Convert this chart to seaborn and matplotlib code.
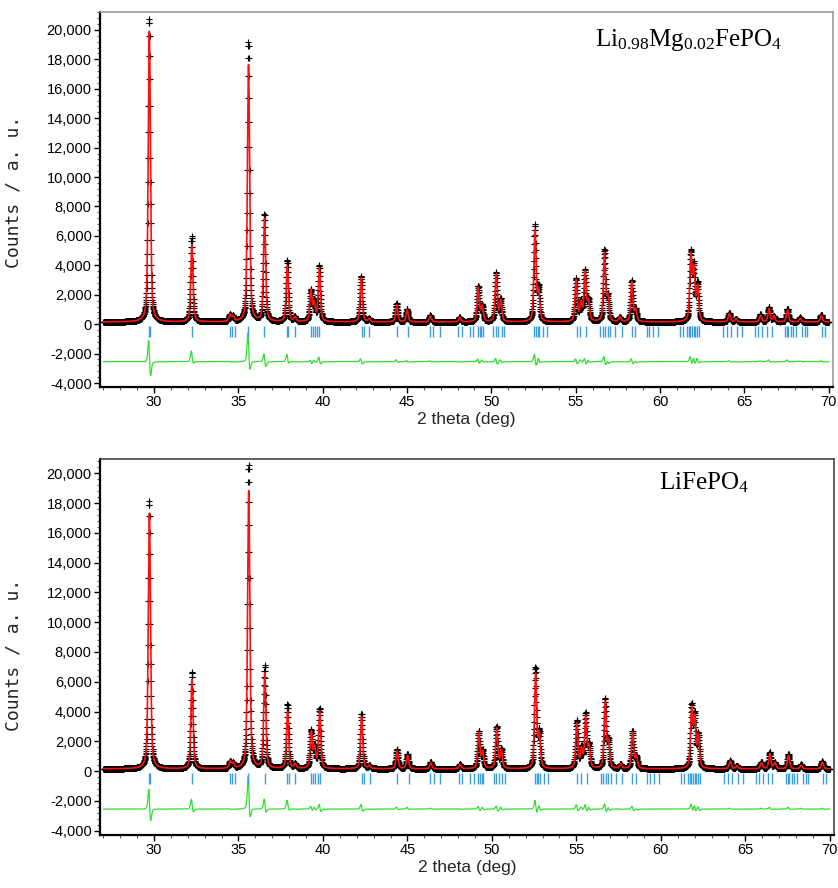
import numpy as np
import pandas as pd
import matplotlib
matplotlib.use("Agg")
import matplotlib.pyplot as plt
from matplotlib.ticker import MultipleLocator, FuncFormatter
import seaborn as sns

# ---------------- data ----------------
# 2-theta scan range and step of the measurement
scan_start, scan_stop, scan_step = 27.0, 70.0, 0.01
background = 150            # flat background level (counts)
diff_offset = -2550         # level at which obs-calc difference is drawn
peak_fwhm = 0.15            # observed peak width (deg)
calc_fwhm = 0.155           # calculated peak width (deg)
calc_shift = 0.006          # small misfit of calculated positions (deg)

# reflection positions (deg 2theta)
peak_pos = [29.72, 32.24, 34.50, 34.68, 35.60, 36.55, 37.90, 38.35, 39.30, 39.50,
            39.80, 42.28, 42.75, 44.38, 45.00, 46.38, 48.12, 49.22, 49.45, 50.28,
            50.55, 52.58, 52.80, 55.02, 55.30, 55.55, 55.75, 56.70, 56.90, 57.62,
            58.32, 58.55, 61.82, 62.00, 62.22, 64.10, 64.50, 65.95, 66.45, 66.75,
            67.55, 68.30, 69.55]

# Li0.98Mg0.02FePO4: observed / calculated peak heights (counts)
mg_obs = [20600, 5800, 450, 350, 19000, 7300, 4200, 300, 2100, 1300,
          3800, 3100, 200, 1250, 850, 450, 300, 2400, 1100, 3300,
          1500, 6500, 2200, 2900, 1300, 3400, 1400, 4800, 1600, 300,
          2800, 800, 4600, 3600, 2500, 600, 200, 500, 1000, 400,
          900, 300, 500]
mg_calc = [19800, 5200, 450, 350, 17500, 7000, 3800, 300, 2100, 1200,
           3600, 3000, 200, 1150, 800, 400, 300, 2300, 1000, 3200,
           1400, 6200, 2000, 2800, 1200, 3300, 1300, 4600, 1600, 300,
           2700, 800, 4400, 3400, 2300, 550, 200, 450, 900, 400,
           800, 250, 450]

# LiFePO4: observed / calculated peak heights (counts)
li_obs = [18000, 6500, 450, 350, 20400, 6900, 4300, 300, 2500, 1400,
          4000, 3700, 200, 1300, 1000, 450, 300, 2500, 1200, 2800,
          1300, 6700, 2400, 3200, 1300, 3600, 1500, 4600, 1800, 300,
          2500, 800, 4100, 3400, 2200, 550, 200, 450, 1100, 400,
          1000, 300, 500]
li_calc = [17200, 6000, 450, 350, 18700, 6400, 3800, 300, 2400, 1300,
           3800, 3500, 200, 1200, 900, 400, 300, 2400, 1100, 2700,
           1200, 6300, 2200, 3000, 1200, 3400, 1400, 4400, 1700, 300,
           2400, 800, 3900, 3200, 2100, 500, 200, 400, 1000, 400,
           900, 250, 450]

# Bragg reflection markers (deg 2theta)
bragg_pos = [29.68, 29.74, 32.23, 34.50, 34.64, 34.80, 35.59, 36.54, 37.86, 37.96,
             38.36, 39.30, 39.42, 39.55, 39.68, 39.80, 42.31, 42.45, 42.76, 44.38,
             45.07, 46.36, 46.55, 46.95, 48.04, 48.24, 48.73, 48.93, 49.20, 49.30,
             49.40, 49.50, 50.11, 50.27, 50.41, 50.61, 50.75, 52.55, 52.65, 52.75,
             52.85, 53.08, 53.31, 55.05, 55.25, 55.61, 56.45, 56.60, 56.75, 56.90,
             57.05, 57.33, 57.72, 58.32, 58.51, 59.20, 59.36, 59.60, 59.90, 61.18,
             61.38, 61.60, 61.70, 61.80, 61.90, 62.00, 62.10, 62.20, 62.30, 63.75,
             63.95, 64.19, 64.54, 64.84, 65.63, 65.82, 66.02, 66.32, 66.61, 67.40,
             67.50, 67.60, 67.75, 67.90, 68.05, 68.39, 68.59, 68.69, 69.58, 69.78]

panel_titles = ["Li$_{0.98}$Mg$_{0.02}$FePO$_4$", "LiFePO$_4$"]
x_label = "2 theta (deg)"
y_label = "Counts / a. u."
x_ticks = [30, 35, 40, 45, 50, 55, 60, 65, 70]
y_ticks = [-4000, -2000, 0, 2000, 4000, 6000, 8000, 10000, 12000, 14000,
           16000, 18000, 20000]


# ---------------- build the patterns from the peak list ----------------
def pattern(x, heights, fwhm, shift=0.0):
    y = np.full_like(x, float(background))
    g = fwhm / 2.0
    for p, h in zip(peak_pos, heights):
        d = (x - p - shift) / g
        lor = 1.0 / (1.0 + d ** 2)
        gau = np.exp(-np.log(2) * d ** 2)
        y += h * (0.5 * lor + 0.5 * gau)
    return y


two_theta = np.arange(scan_start, scan_stop + scan_step / 2, scan_step)


def make_frame(obs_h, calc_h):
    obs = pattern(two_theta, obs_h, peak_fwhm)
    calc = pattern(two_theta, calc_h, calc_fwhm, calc_shift)
    return pd.DataFrame({"two_theta": two_theta, "obs": obs, "calc": calc,
                         "diff": obs - calc + diff_offset})


frames = [make_frame(mg_obs, mg_calc), make_frame(li_obs, li_calc)]

# ---------------- plotting ----------------
sns.set_theme(style="ticks")
plt.rcParams["font.family"] = ["Liberation Sans", "DejaVu Sans"]
plt.rcParams["mathtext.fontset"] = "custom"
plt.rcParams["mathtext.rm"] = "Liberation Serif"
plt.rcParams["mathtext.it"] = "Liberation Serif"

fig = plt.figure(figsize=(8.38, 8.88), dpi=100)
ax_rects = [[0.1193, 0.5642, 0.8747, 0.4223],
            [0.1193, 0.0597, 0.8759, 0.4234]]
ylims = [(-4270, 21220), (-4290, 20960)]
title_pos = [(0.675, 0.925), (0.762, 0.936)]
ylabel_y = [0.52, 0.48]
frame_col = ["#9a9a9a", "#444444"]

for i, df in enumerate(frames):
    ax = fig.add_axes(ax_rects[i])
    sns.scatterplot(data=df, x="two_theta", y="obs", ax=ax, marker="+",
                    color="black", s=22, linewidth=0.8, legend=False, zorder=2)
    sns.lineplot(data=df, x="two_theta", y="calc", ax=ax, color="#ff1010",
                 linewidth=1.2, estimator=None, sort=False, zorder=3)
    sns.lineplot(data=df, x="two_theta", y="diff", ax=ax, color="#2fe02f",
                 linewidth=0.9, estimator=None, sort=False, zorder=3)
    ax.vlines(bragg_pos, -850, -150, color="#3a9ee6", linewidth=1.0, zorder=3)

    ax.set_xlim(26.8, 70.25)
    ax.set_ylim(*ylims[i])
    ax.set_xticks(x_ticks)
    ax.set_yticks(y_ticks)
    ax.xaxis.set_minor_locator(MultipleLocator(1))
    ax.yaxis.set_minor_locator(MultipleLocator(400))
    ax.yaxis.set_major_formatter(FuncFormatter(lambda v, p: f"{int(v):,}"))
    ax.tick_params(axis="both", which="major", direction="out", length=4,
                   width=1, colors="black", labelsize=10.5, pad=2)
    ax.tick_params(axis="both", which="minor", direction="out", length=2.5,
                   width=0.8, colors="#555555")

    for side in ["left", "bottom"]:
        ax.spines[side].set_color("black")
        ax.spines[side].set_linewidth(1.6)
    for side in ["top", "right"]:
        ax.spines[side].set_visible(True)
        ax.spines[side].set_color(frame_col[i])
        ax.spines[side].set_linewidth(1.2)

    ax.set_xlabel(x_label, fontsize=12.5, labelpad=2)
    ax.set_ylabel(y_label, fontsize=13, family="DejaVu Sans Mono")
    ax.yaxis.set_label_coords(-0.106, ylabel_y[i])

    ax.text(title_pos[i][0], title_pos[i][1], panel_titles[i],
            transform=ax.transAxes, fontsize=18, family="Liberation Serif",
            ha="left", va="center", color="black")

fig.savefig("out.png", dpi=100)
